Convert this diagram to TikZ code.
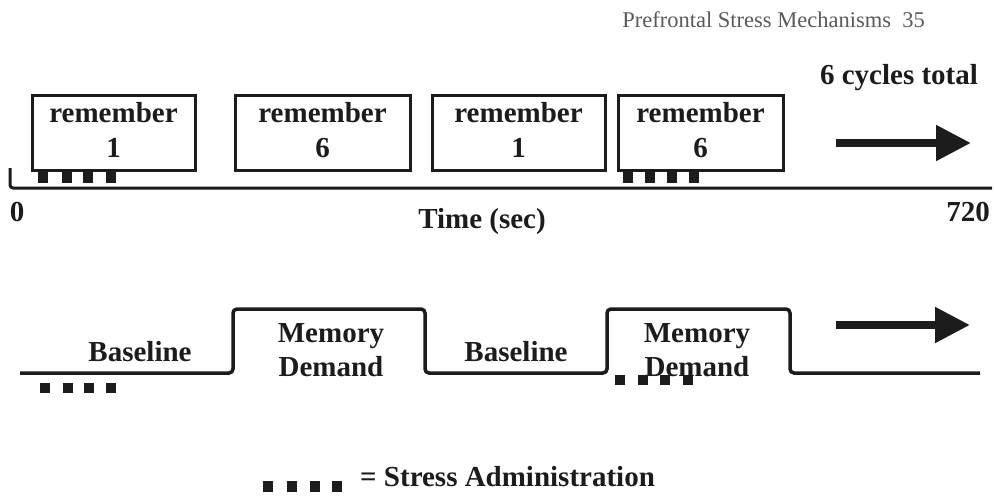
\documentclass[tikz,border=0pt]{standalone}
\usepackage{fontspec}
\setmainfont{Liberation Serif}
\usetikzlibrary{arrows.meta}
\definecolor{ink}{HTML}{1C1C1C}
\definecolor{headgray}{HTML}{5A5A5A}
\begin{document}
\begin{tikzpicture}[x=1pt,y=-1pt,
  lbl/.style={text=ink,font=\fontsize{29}{34}\selectfont\bfseries,align=center,inner sep=0pt},
  cuebox/.style={draw=ink,line width=3pt,minimum height=75pt,inner sep=0pt,text depth=6pt,
                 font=\fontsize{29}{35}\selectfont\bfseries,text=ink,align=center},
  stresssq/.style={fill=ink,draw=none,minimum width=10pt,minimum height=12pt,inner sep=0pt},
  axisline/.style={draw=ink,line width=3pt},
  wave/.style={draw=ink,line width=3.5pt,rounded corners=4pt},
  bigarrow/.style={draw=ink,line width=8pt,-{Triangle[length=35pt,width=34pt]}}]
\useasboundingbox (0,0) rectangle (994,499);

% running header
\node[text=headgray,font=\fontsize{22.5}{25}\selectfont,anchor=east,inner sep=0pt] (hdr) at (925,20) {Prefrontal Stress Mechanisms\ \ 35};

% cue boxes on the upper time line
\node[cuebox,minimum width=163pt] (b1) at (113.5,132.5) {remember\\1};
\node[cuebox,minimum width=175pt] (b2) at (322.5,132.5) {remember\\6};
\node[cuebox,minimum width=173pt] (b3) at (518.5,132.5) {remember\\1};
\node[cuebox,minimum width=165pt] (b4) at (700.5,132.5) {remember\\6};

% upper time axis
\coordinate (ax0) at (10,168);
\coordinate (axL) at (10,188);
\coordinate (axR) at (992,188);
\draw[axisline,rounded corners=3pt] (ax0) -- (axL) -- (axR);

% stress administration markers under the boxes
\foreach \x [count=\i] in {43,67,88,111}
  \node[stresssq] (sa\i) at (\x,177) {};
\foreach \x [count=\i] in {628,650,672,694}
  \node[stresssq] (sb\i) at (\x,177) {};

\node[lbl] (t0) at (17,212) {0};
\node[lbl,anchor=east] (t720) at (990,212) {720};
\node[lbl] (tlabel) at (482,222) {Time (sec)};

\node[lbl] (cyc) at (899,78) {6 cycles total};
\coordinate (a1s) at (836,143);
\coordinate (a1e) at (971,143);
\draw[bigarrow] (a1s) -- (a1e);

% lower block design trace
\coordinate (w0) at (20,373);
\coordinate (w1) at (233,373);
\coordinate (w2) at (233,309);
\coordinate (w3) at (425,309);
\coordinate (w4) at (425,373);
\coordinate (w5) at (607,373);
\coordinate (w6) at (607,309);
\coordinate (w7) at (790,309);
\coordinate (w8) at (790,373);
\coordinate (w9) at (980,373);
\draw[wave] (w0) -- (w1) -- (w2) -- (w3) -- (w4) -- (w5) -- (w6) -- (w7) -- (w8) -- (w9);

\foreach \x [count=\i] in {45,67.5,89,111}
  \node[stresssq,minimum height=10pt] (sc\i) at (\x,387.5) {};
\foreach \x [count=\i] in {620,643,665,688}
  \node[stresssq,minimum height=10pt] (sd\i) at (\x,380) {};

\node[lbl] (bl1) at (140,352) {Baseline};
\node[lbl] (md1) at (331,350) {Memory\\Demand};
\node[lbl] (bl2) at (516,352) {Baseline};
\node[lbl] (md2) at (697,350) {Memory\\Demand};

\coordinate (a2s) at (836,325);
\coordinate (a2e) at (970,325);
\draw[bigarrow] (a2s) -- (a2e);

% legend
\foreach \x [count=\i] in {268,292,315,337}
  \node[stresssq,minimum height=11pt] (lg\i) at (\x,486.5) {};
\node[lbl,anchor=west] (lgtext) at (360,477) {= Stress Administration};
\end{tikzpicture}
\end{document}
